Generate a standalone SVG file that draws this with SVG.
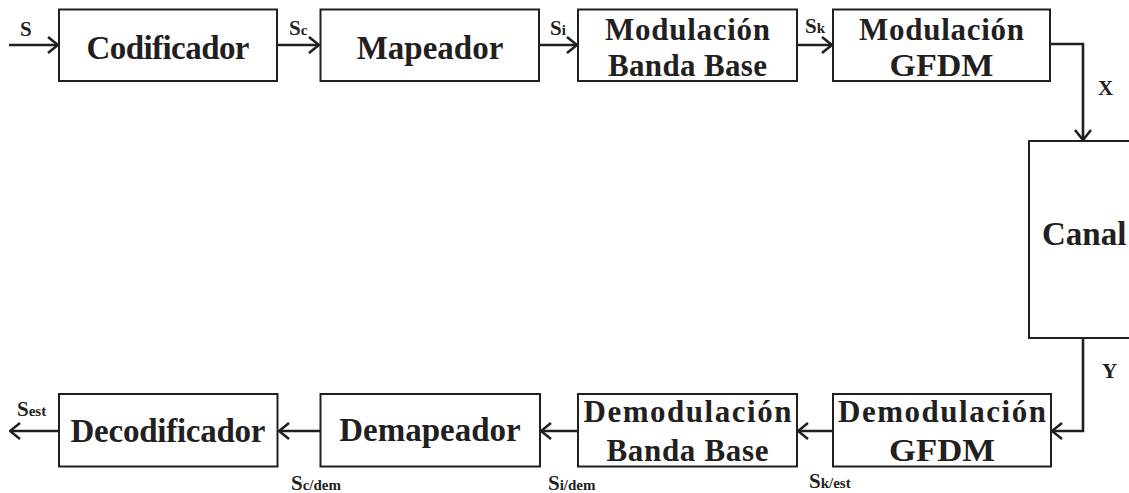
<svg xmlns="http://www.w3.org/2000/svg" width="1129" height="493" viewBox="0 0 1129 493">
<defs>
<style>
.box{fill:#fff;stroke:#231f20;stroke-width:2}
.t{font-family:"Liberation Serif","Times New Roman",serif;font-weight:bold;fill:#231f20;text-anchor:middle}
.t1{font-size:33px}
.t2{font-size:31px}
.lbl{font-family:"Liberation Serif","Times New Roman",serif;font-weight:bold;fill:#231f20;font-size:21px}
.sub{font-size:15px}
.ln{fill:none;stroke:#231f20;stroke-width:2.6}
</style>
<marker id="arr" viewBox="0 0 12 18" refX="11" refY="9" markerWidth="12" markerHeight="18" markerUnits="userSpaceOnUse" orient="auto">
<path d="M1,1 L11,9 L1,17" fill="none" stroke="#231f20" stroke-width="2.6"/>
</marker>
</defs>
<rect width="1129" height="493" fill="#fff"/>

<g id="connectors">
<line class="ln" x1="9" y1="45" x2="58" y2="45" marker-end="url(#arr)"/>
<line class="ln" x1="277" y1="45" x2="319" y2="45" marker-end="url(#arr)"/>
<line class="ln" x1="539" y1="45" x2="577" y2="45" marker-end="url(#arr)"/>
<line class="ln" x1="797" y1="45" x2="832" y2="45" marker-end="url(#arr)"/>
<polyline class="ln" points="1050,44 1083,44 1083,140" marker-end="url(#arr)"/>
<polyline class="ln" points="1083,338 1083,431 1052,431" marker-end="url(#arr)"/>
<line class="ln" x1="833" y1="431" x2="798" y2="431" marker-end="url(#arr)"/>
<line class="ln" x1="578" y1="431" x2="541" y2="431" marker-end="url(#arr)"/>
<line class="ln" x1="320" y1="431" x2="279" y2="431" marker-end="url(#arr)"/>
<line class="ln" x1="59" y1="431" x2="10" y2="431" marker-end="url(#arr)"/>
<text class="lbl" x="20" y="36">S</text>
<text class="lbl" x="289" y="35">S<tspan class="sub">c</tspan></text>
<text class="lbl" x="550" y="35">S<tspan class="sub">i</tspan></text>
<text class="lbl" x="805" y="33">S<tspan class="sub">k</tspan></text>
<text class="lbl" x="1098" y="95">X</text>
<text class="lbl" x="1102" y="378">Y</text>
<text class="lbl" x="17" y="416">S<tspan class="sub">est</tspan></text>
<text class="lbl" x="291" y="490">S<tspan class="sub">c/dem</tspan></text>
<text class="lbl" x="548" y="490">S<tspan class="sub">i/dem</tspan></text>
<text class="lbl" x="809" y="488">S<tspan class="sub">k/est</tspan></text>
</g>

<g id="codificador">
<rect class="box" x="59" y="9.5" width="218" height="71.5"/>
<text class="t t1" x="168" y="59" textLength="163">Codificador</text>
</g>
<g id="mapeador">
<rect class="box" x="320.5" y="9.5" width="218.5" height="71.5"/>
<text class="t t1" x="430" y="59">Mapeador</text>
</g>
<g id="modulacion-banda-base">
<rect class="box" x="578" y="9.5" width="219" height="71.5"/>
<text class="t t2" x="687.5" y="40" textLength="165">Modulación</text>
<text class="t t2" x="687.5" y="76" textLength="159">Banda Base</text>
</g>
<g id="modulacion-gfdm">
<rect class="box" x="833" y="9.5" width="217" height="71.5"/>
<text class="t t2" x="941.5" y="40" textLength="165">Modulación</text>
<text class="t t2" x="941.5" y="76" textLength="104" lengthAdjust="spacingAndGlyphs">GFDM</text>
</g>
<g id="canal">
<rect class="box" x="1029" y="141" width="130" height="197"/>
<text class="t t1" x="1042" y="245" style="text-anchor:start">Canal</text>
</g>
<g id="demodulacion-gfdm">
<rect class="box" x="833" y="394" width="218" height="72.5"/>
<text class="t t2" x="942" y="422" textLength="208">Demodulación</text>
<text class="t t2" x="942" y="461" textLength="106" lengthAdjust="spacingAndGlyphs">GFDM</text>
</g>
<g id="demodulacion-banda-base">
<rect class="box" x="578" y="394" width="219" height="72.5"/>
<text class="t t2" x="687.5" y="422" textLength="208">Demodulación</text>
<text class="t t2" x="687.5" y="461" textLength="162">Banda Base</text>
</g>
<g id="demapeador">
<rect class="box" x="320.5" y="394" width="219.5" height="72.5"/>
<text class="t t1" x="430" y="441">Demapeador</text>
</g>
<g id="decodificador">
<rect class="box" x="59" y="394" width="218.5" height="72.5"/>
<text class="t t1" x="168" y="442" textLength="195">Decodificador</text>
</g>
</svg>
